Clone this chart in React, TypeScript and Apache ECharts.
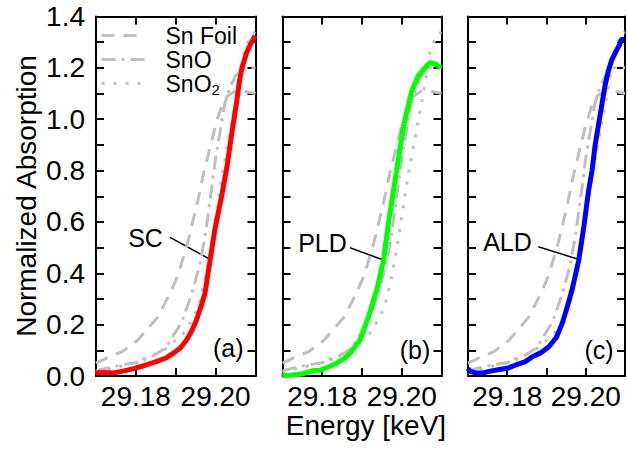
import React, { useEffect, useRef } from "react";
import * as echarts from "echarts";

// ---------- data (energy in keV, normalized absorption) ----------
const snFoilE = [29.170, 29.1727, 29.1766, 29.1805, 29.1855, 29.1885, 29.1905, 29.193, 29.1955, 29.197, 29.1986, 29.2002, 29.2015, 29.203, 29.205, 29.207, 29.21];
const snFoilV = [0.05, 0.07, 0.095, 0.14, 0.23, 0.32, 0.39, 0.52, 0.68, 0.79, 0.89, 0.99, 1.05, 1.09, 1.11, 1.11, 1.10];

const snOE = [29.170, 29.174, 29.181, 29.1845, 29.1875, 29.1915, 29.194, 29.196, 29.1975, 29.199, 29.2, 29.2011, 29.2023, 29.2035, 29.205, 29.207, 29.21];
const snOV = [0.02, 0.036, 0.055, 0.08, 0.11, 0.21, 0.32, 0.43, 0.56, 0.73, 0.85, 0.95, 1.06, 1.12, 1.17, 1.2, 1.2];

const snO2E = [29.170, 29.1794, 29.187, 29.192, 29.1946, 29.1962, 29.1975, 29.1987, 29.2, 29.2013, 29.2025, 29.2034, 29.2042, 29.205, 29.206, 29.2071, 29.2088, 29.21];
const snO2V = [0.015, 0.05, 0.10, 0.167, 0.23, 0.30, 0.39, 0.49, 0.62, 0.75, 0.86, 0.93, 1.0, 1.065, 1.15, 1.26, 1.33, 1.34];

const scE = [29.1698, 29.172, 29.1745, 29.177, 29.1792, 29.182, 29.1851, 29.1875, 29.1893, 29.1912, 29.1927, 29.194, 29.1952, 29.1963, 29.1973, 29.1985, 29.1998, 29.2015, 29.2028, 29.204, 29.2053, 29.206, 29.2066, 29.2078, 29.209, 29.2099];
const scV = [0.013, 0.014, 0.012, 0.02, 0.028, 0.04, 0.056, 0.07, 0.088, 0.11, 0.14, 0.175, 0.218, 0.27, 0.32, 0.44, 0.57, 0.70, 0.81, 0.94, 1.07, 1.15, 1.2, 1.26, 1.3, 1.325];

const pldE = [29.17, 29.1725, 29.175, 29.1775, 29.1794, 29.1815, 29.1836, 29.1855, 29.187, 29.1895, 29.1916, 29.1937, 29.1954, 29.1966, 29.1979, 29.1991, 29.2004, 29.2013, 29.2025, 29.2042, 29.2058, 29.2071, 29.2085, 29.2098];
const pldV = [0.0, 0.004, 0.008, 0.02, 0.022, 0.035, 0.05, 0.068, 0.089, 0.14, 0.23, 0.335, 0.45, 0.59, 0.72, 0.84, 0.97, 1.03, 1.11, 1.17, 1.2, 1.22, 1.215, 1.2];

const aldE = [29.17, 29.1705, 29.172, 29.1738, 29.176, 29.178, 29.18, 29.1822, 29.1845, 29.1864, 29.1885, 29.1906, 29.1925, 29.194, 29.1953, 29.1965, 29.1982, 29.1995, 29.2007, 29.2016, 29.2024, 29.2037, 29.2049, 29.2058, 29.2066, 29.2079, 29.2086, 29.2091, 29.2098];
const aldV = [0.03, 0.018, 0.012, 0.012, 0.02, 0.025, 0.03, 0.043, 0.055, 0.075, 0.09, 0.114, 0.15, 0.205, 0.27, 0.335, 0.45, 0.58, 0.72, 0.80, 0.90, 1.02, 1.13, 1.19, 1.23, 1.27, 1.29, 1.31, 1.31];

const sampleNames = ["SC", "PLD", "ALD"];
const panelTags = ["(a)", "(b)", "(c)"];
const xLabelTicks = [29.18, 29.2];

const FONT = '"Liberation Sans", Arial, Helvetica, sans-serif';
const GREY = "#bfbfbf";

const pairs = (e: number[], v: number[]) => e.map((x, i) => [x, v[i]]);

export default function App() {
  const ref = useRef<HTMLDivElement>(null);

  useEffect(() => {
    if (!ref.current) return;
    const chart = echarts.init(ref.current, undefined, { renderer: "svg" });

    const gridLefts = [96, 282.5, 468];
    const gridWidths = [159.5, 159, 158.5];
    const samples = [
      { e: scE, v: scV, color: "#ff0000" },
      { e: pldE, v: pldV, color: "#00ff00" },
      { e: aldE, v: aldV, color: "#0000ff" },
    ];

    const lineAxis = { show: true, onZero: false, lineStyle: { color: "#000", width: 2 } };
    const tick = { show: true, inside: true, length: 8, lineStyle: { color: "#000", width: 2 } };

    const grids: any[] = [];
    const xAxes: any[] = [];
    const yAxes: any[] = [];
    const series: any[] = [];

    for (let g = 0; g < 3; g++) {
      grids.push({ left: gridLefts[g], top: 16.5, width: gridWidths[g], height: 359.5, containLabel: false });
      xAxes.push({
        type: "value", gridIndex: g, position: "bottom", min: 29.17, max: 29.21, interval: 0.01,
        axisLine: lineAxis, axisTick: tick, splitLine: { show: false },
        axisLabel: {
          show: true, margin: 7, fontSize: 28, lineHeight: 26, fontFamily: FONT, color: "#000",
          formatter: (v: number) => {
            const k = Math.round(v * 100);
            return xLabelTicks.some((t) => Math.round(t * 100) === k) ? (k / 100).toFixed(2) : "";
          },
        },
      });
      xAxes.push({
        type: "value", gridIndex: g, position: "top", min: 29.17, max: 29.21, interval: 0.01,
        axisLine: lineAxis, axisTick: tick, splitLine: { show: false }, axisLabel: { show: false },
      });
      yAxes.push({
        type: "value", gridIndex: g, position: "left", min: 0, max: 1.4, interval: 0.1,
        axisLine: lineAxis, axisTick: tick, splitLine: { show: false },
        axisLabel: {
          show: g === 0, margin: 11, fontSize: 28, fontFamily: FONT, color: "#000",
          formatter: (v: number) => {
            const t = Math.round(v * 10);
            return t % 2 === 0 ? (t / 10).toFixed(1) : "";
          },
        },
      });
      yAxes.push({
        type: "value", gridIndex: g, position: "right", min: 0, max: 1.4, interval: 0.1,
        axisLine: lineAxis, axisTick: tick, splitLine: { show: false }, axisLabel: { show: false },
      });

      const common = { type: "line", xAxisIndex: 2 * g, yAxisIndex: 2 * g, symbol: "none", showSymbol: false, silent: true };
      series.push({ ...common, name: "Sn Foil", data: pairs(snFoilE, snFoilV), z: 2,
        lineStyle: { color: GREY, width: 3, type: [13, 9] }, itemStyle: { color: GREY } });
      series.push({ ...common, name: "SnO", data: pairs(snOE, snOV), z: 2,
        lineStyle: { color: GREY, width: 3, type: [14, 6, 3, 6] }, itemStyle: { color: GREY } });
      series.push({ ...common, name: "SnO2", data: pairs(snO2E, snO2V), z: 2,
        lineStyle: { color: GREY, width: 3, type: [3, 9] }, itemStyle: { color: GREY } });
      series.push({ ...common, name: sampleNames[g], data: pairs(samples[g].e, samples[g].v), z: 5,
        lineStyle: { color: samples[g].color, width: 5, join: "round" }, itemStyle: { color: samples[g].color } });
    }

    const txt = (text: string, x: number, y: number, size: number, extra: any = {}) => ({
      type: "text", x, y, silent: true, ...extra,
      style: { text, fontSize: size, fontFamily: FONT, fill: "#000", align: "center", verticalAlign: "middle" },
    });
    const leader = (x1: number, y1: number, x2: number, y2: number) => ({
      type: "line", silent: true, shape: { x1, y1, x2, y2 }, style: { stroke: "#000", lineWidth: 1.5 },
    });

    const graphic: any[] = [
      txt("Normalized Absorption", 26, 196, 28, { rotation: Math.PI / 2 }),
      txt("Energy [keV]", 366, 425, 28),
      txt(sampleNames[0], 145.5, 237.5, 25),
      txt(sampleNames[1], 322.5, 242.5, 25),
      txt(sampleNames[2], 507.5, 242, 25),
      leader(170, 237.3, 210, 259.3),
      leader(350, 247.7, 383.3, 260),
      leader(538.3, 246.7, 578.3, 259.3),
      txt(panelTags[0], 228.3, 348, 25),
      txt(panelTags[1], 415, 350, 25),
      txt(panelTags[2], 599, 350, 25),
    ];

    chart.setOption({
      animation: false,
      grid: grids,
      xAxis: xAxes,
      yAxis: yAxes,
      series,
      legend: {
        data: ["Sn Foil", "SnO", "SnO2"],
        orient: "vertical",
        left: 100,
        top: 24,
        padding: 0,
        itemGap: 1,
        itemWidth: 43,
        itemHeight: 26,
        selectedMode: false,
        lineStyle: { width: 3, color: GREY },
        itemStyle: { color: "rgba(0,0,0,0)", borderWidth: 0, borderColor: "rgba(0,0,0,0)", opacity: 0 },
        formatter: (name: string) => (name === "SnO2" ? "{m|SnO}{s|2}" : "{m|" + name + "}"),
        textStyle: {
          color: "#000",
          fontFamily: FONT,
          fontSize: 23,
          padding: [0, 0, 0, 16],
          rich: {
            m: { fontSize: 23, lineHeight: 26, fontFamily: FONT, color: "#000" },
            s: { fontSize: 15, lineHeight: 2, verticalAlign: "bottom", fontFamily: FONT, color: "#000" },
          },
        },
      },
      graphic,
    });

    return () => chart.dispose();
  }, []);

  return (
    <div
      ref={ref}
      style={{ position: "absolute", left: 0, top: 0, width: 628, height: 450, background: "#fff" }}
    />
  );
}
